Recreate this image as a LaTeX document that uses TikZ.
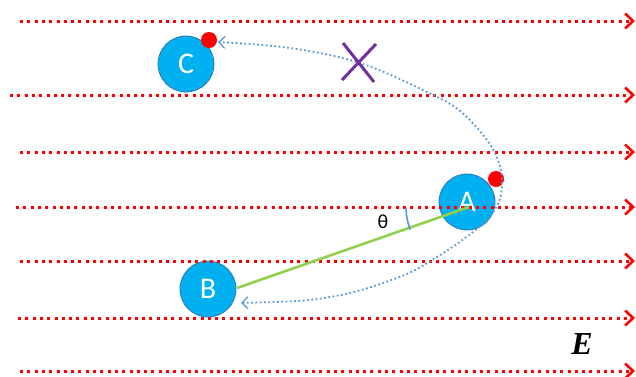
\documentclass[tikz,border=0pt]{standalone}
\usepackage{fontspec}
\setmainfont{Carlito}
\newfontfamily\efont{Liberation Serif}
\usetikzlibrary{arrows.meta}
\definecolor{fieldred}{RGB}{255,0,0}
\definecolor{ballblue}{RGB}{0,176,240}
\definecolor{balledge}{RGB}{46,117,182}
\definecolor{pathblue}{RGB}{91,155,213}
\definecolor{rodgreen}{RGB}{146,208,80}
\definecolor{crosspurple}{RGB}{112,48,160}
\begin{document}
\begin{tikzpicture}[x=1pt,y=-1pt,
  fieldline/.style={draw=fieldred, line width=3pt, dash pattern=on 3pt off 4.3pt,
    -{Straight Barb[length=8pt,width=15pt,line width=2.6pt]}},
  ball/.style={circle, fill=ballblue, draw=balledge, line width=0.8pt, minimum size=56pt,
    inner sep=0pt, text=white, font=\fontsize{30}{30}\selectfont},
  charge/.style={circle, fill=fieldred, minimum size=16pt, inner sep=0pt},
  orbit/.style={draw=pathblue, line width=1.8pt, dash pattern=on 1.8pt off 2.5pt,
    {Straight Barb[length=6pt,width=12pt,line width=1.3pt]}-{Straight Barb[length=6pt,width=12pt,line width=1.3pt]}},
  rod/.style={draw=rodgreen, line width=2.6pt},
  anglearc/.style={draw=pathblue, line width=1.6pt},
  crossmark/.style={draw=crosspurple, line width=3pt},
  anglelabel/.style={font=\fontsize{20}{20}\selectfont, inner sep=0pt},
  fieldlabel/.style={font=\efont\bfseries\itshape\fontsize{32}{32}\selectfont, inner sep=0pt}
]
\useasboundingbox (0,0) rectangle (636,376);

% balls
\node[ball] (A) at (467,202) {A};
\node[ball] (B) at (208,289) {B};
\node[ball] (C) at (186,64) {C};

% field lines
\foreach \yy/\xs [count=\i] in {21/20, 95/10, 152/20, 207/16, 261/20, 318/18, 371/20} {
  \coordinate (fs\i) at (\xs,\yy);
  \coordinate (fe\i) at (635,\yy);
  \draw[fieldline] (fs\i) -- (fe\i);
}

% rod
\coordinate (rodA) at (469,207);
\coordinate (rodB) at (237,288);
\draw[rod] (rodA) -- (rodB);

% angle
\draw[anglearc] (rodA) ++(179:63) arc[start angle=179, end angle=159, radius=63];
\node[anglelabel] (theta) at (383,222) {θ};

% charges
\node[charge] (qA) at (496,179) {};
\node[charge] (qC) at (209,40) {};

% orbit path
\coordinate (toB) at (241,303);
\coordinate (toC) at (218,42);
\draw[orbit] plot[smooth, tension=0.6] coordinates {
  (toB) (330,297) (397,278) (437,257) (478,228) (497,206) (502,185) (499,163)
  (487,140) (460,111) (427,92) (360,63) (290,48) (toC)};

% cross
\coordinate (x1) at (343,43);
\coordinate (x2) at (374,82);
\coordinate (x3) at (376,44);
\coordinate (x4) at (342,80);
\draw[crossmark] (x1) -- (x2) (x3) -- (x4);

% field label
\node[fieldlabel] (E) at (582,344) {E};
\end{tikzpicture}
\end{document}
